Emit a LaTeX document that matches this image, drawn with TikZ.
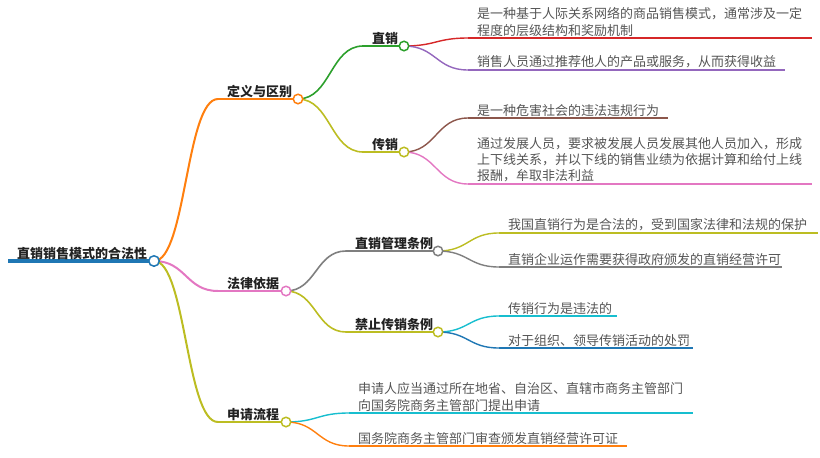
\documentclass[tikz,border=0pt]{standalone}
\usepackage{fontspec}
\newfontfamily\cjk{Noto Sans CJK SC}
\usetikzlibrary{calc}
\definecolor{cBlue}{HTML}{1F77B4}
\definecolor{cOrange}{HTML}{FF7F0E}
\definecolor{cGreen}{HTML}{2CA02C}
\definecolor{cRed}{HTML}{D62728}
\definecolor{cPurple}{HTML}{9467BD}
\definecolor{cBrown}{HTML}{8C564B}
\definecolor{cPink}{HTML}{E377C2}
\definecolor{cGray}{HTML}{7F7F7F}
\definecolor{cOlive}{HTML}{BCBD22}
\definecolor{cCyan}{HTML}{17BECF}
\definecolor{leafgray}{HTML}{555555}
\definecolor{labelblack}{HTML}{222222}
\newcommand\mmlink[3]{\draw[#3] let \p1=(#1), \p2=(#2) in (#1) .. controls ({(\x1+\x2)/2},\y1) and ({(\x1+\x2)/2},\y2) .. (#2);}
\begin{document}
\begin{tikzpicture}[x=1pt,y=-1pt,
  leaf/.style={anchor=south west, inner sep=0pt, align=left, text=leafgray, font=\cjk\fontsize{13}{16.4}\selectfont},
  lbl/.style={anchor=south west, inner sep=0pt, text=labelblack, font=\cjk\bfseries\fontsize{13}{16}\selectfont},
  dot/.style={circle, draw=#1, fill=white, line width=1.5pt, minimum size=9.5pt, inner sep=0pt},
  rootdot/.style={circle, draw=#1, fill=white, line width=1.5pt, minimum size=10.5pt, inner sep=0pt},
  w0/.style={line width=3.2pt},
  w1/.style={line width=2pt},
  w2/.style={line width=1.6pt},
  w3/.style={line width=1.4pt}]
\useasboundingbox (0,0) rectangle (820,458);
% coordinates: left ends (l) and right ends (c)
\coordinate (r-l) at (8,261);   \coordinate (r-c) at (154,261);
\coordinate (a-l) at (218,99);  \coordinate (a-c) at (298,99);
\coordinate (b-l) at (218,291); \coordinate (b-c) at (286,291);
\coordinate (c-l) at (218,422); \coordinate (c-c) at (286,422);
\coordinate (a1-l) at (363,46);  \coordinate (a1-c) at (404,46);
\coordinate (a2-l) at (363,152); \coordinate (a2-c) at (404,152);
\coordinate (b1-l) at (346,251); \coordinate (b1-c) at (438,251);
\coordinate (b2-l) at (346,332); \coordinate (b2-c) at (438,332);
\coordinate (a1x-l) at (468,38);  \coordinate (a1x-r) at (812,38);
\coordinate (a1y-l) at (468,70);  \coordinate (a1y-r) at (785,70);
\coordinate (a2x-l) at (468,118); \coordinate (a2x-r) at (668,118);
\coordinate (a2y-l) at (468,184); \coordinate (a2y-r) at (812,184);
\coordinate (b1x-l) at (499,233); \coordinate (b1x-r) at (818,233);
\coordinate (b1y-l) at (499,267); \coordinate (b1y-r) at (782,267);
\coordinate (b2x-l) at (499,316); \coordinate (b2x-r) at (617,316);
\coordinate (b2y-l) at (499,348); \coordinate (b2y-r) at (693,348);
\coordinate (c1x-l) at (349,413); \coordinate (c1x-r) at (693,413);
\coordinate (c2x-l) at (349,446); \coordinate (c2x-r) at (627,446);
% links
\mmlink{r-c}{a-l}{cOrange,w1}
\mmlink{r-c}{b-l}{cPink,w1}
\mmlink{r-c}{c-l}{cOlive,w1}
\mmlink{a-c}{a1-l}{cGreen,w2}
\mmlink{a-c}{a2-l}{cOlive,w2}
\mmlink{b-c}{b1-l}{cGray,w2}
\mmlink{b-c}{b2-l}{cOlive,w2}
\mmlink{a1-c}{a1x-l}{cRed,w3}
\mmlink{a1-c}{a1y-l}{cPurple,w3}
\mmlink{a2-c}{a2x-l}{cBrown,w3}
\mmlink{a2-c}{a2y-l}{cPink,w3}
\mmlink{b1-c}{b1x-l}{cOlive,w3}
\mmlink{b1-c}{b1y-l}{cGray,w3}
\mmlink{b2-c}{b2x-l}{cCyan,w3}
\mmlink{b2-c}{b2y-l}{cBlue,w3}
\mmlink{c-c}{c1x-l}{cCyan,w3}
\mmlink{c-c}{c2x-l}{cOrange,w3}
% underlines
\draw[cBlue,w0] (r-l) -- (r-c);
\draw[cOrange,w1] (a-l) -- (a-c);
\draw[cPink,w1] (b-l) -- (b-c);
\draw[cOlive,w1] (c-l) -- (c-c);
\draw[cGreen,w2] (a1-l) -- (a1-c);
\draw[cOlive,w2] (a2-l) -- (a2-c);
\draw[cGray,w2] (b1-l) -- (b1-c);
\draw[cOlive,w2] (b2-l) -- (b2-c);
\draw[cRed,w3] (a1x-l) -- (a1x-r);
\draw[cPurple,w3] (a1y-l) -- (a1y-r);
\draw[cBrown,w3] (a2x-l) -- (a2x-r);
\draw[cPink,w3] (a2y-l) -- (a2y-r);
\draw[cOlive,w3] (b1x-l) -- (b1x-r);
\draw[cGray,w3] (b1y-l) -- (b1y-r);
\draw[cCyan,w3] (b2x-l) -- (b2x-r);
\draw[cBlue,w3] (b2y-l) -- (b2y-r);
\draw[cCyan,w3] (c1x-l) -- (c1x-r);
\draw[cOrange,w3] (c2x-l) -- (c2x-r);
% circles
\node[rootdot=cBlue] (r-dot) at (r-c) {};
\node[dot=cOrange] (a-dot) at (a-c) {};
\node[dot=cPink] (b-dot) at (b-c) {};
\node[dot=cOlive] (c-dot) at (c-c) {};
\node[dot=cGreen] (a1-dot) at (a1-c) {};
\node[dot=cOlive] (a2-dot) at (a2-c) {};
\node[dot=cGray] (b1-dot) at (b1-c) {};
\node[dot=cOlive] (b2-dot) at (b2-c) {};
% labels
\node[lbl] (r-t) at (17,259.5) {直销销售模式的合法性};
\node[lbl] (a-t) at (227,97.5) {定义与区别};
\node[lbl] (b-t) at (227,289.5) {法律依据};
\node[lbl] (c-t) at (227,420.5) {申请流程};
\node[lbl] (a1-t) at (372,44.5) {直销};
\node[lbl] (a2-t) at (372,150.5) {传销};
\node[lbl] (b1-t) at (355,249.5) {直销管理条例};
\node[lbl] (b2-t) at (355,330.5) {禁止传销条例};
% leaves
\node[leaf] (a1x-t) at (477,36.5) {是一种基于人际关系网络的商品销售模式，通常涉及一定\\程度的层级结构和奖励机制};
\node[leaf] (a1y-t) at (477,68.5) {销售人员通过推荐他人的产品或服务，从而获得收益};
\node[leaf] (a2x-t) at (477,116.5) {是一种危害社会的违法违规行为};
\node[leaf] (a2y-t) at (477,182.5) {通过发展人员，要求被发展人员发展其他人员加入，形成\\上下线关系，并以下线的销售业绩为依据计算和给付上线\\报酬，牟取非法利益};
\node[leaf] (b1x-t) at (508,231.5) {我国直销行为是合法的，受到国家法律和法规的保护};
\node[leaf] (b1y-t) at (508,265.5) {直销企业运作需要获得政府颁发的直销经营许可};
\node[leaf] (b2x-t) at (508,314.5) {传销行为是违法的};
\node[leaf] (b2y-t) at (508,346.5) {对于组织、领导传销活动的处罚};
\node[leaf] (c1x-t) at (358,411.5) {申请人应当通过所在地省、自治区、直辖市商务主管部门\\向国务院商务主管部门提出申请};
\node[leaf] (c2x-t) at (358,444.5) {国务院商务主管部门审查颁发直销经营许可证};
\end{tikzpicture}
\end{document}
